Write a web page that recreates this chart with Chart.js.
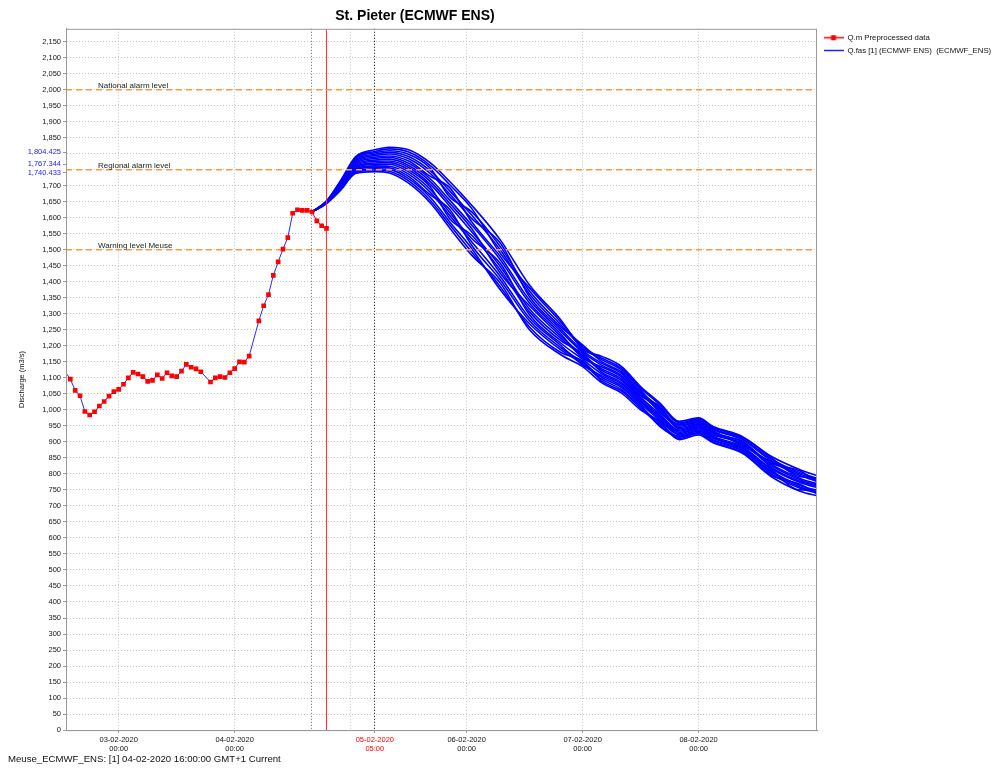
<!DOCTYPE html>
<html>
<head>
<meta charset="utf-8">
<title>St. Pieter (ECMWF ENS)</title>
<script src="https://cdn.jsdelivr.net/npm/chart.js@4.4.1/dist/chart.umd.min.js"></script>
<style>
    html, body { margin: 0; padding: 0; background: #fff; }
    canvas { display: block; }
</style>
</head>
<body>
<canvas id="grafico" width="993" height="769"></canvas>
<script>
// eixo x em horas desde 03-02-2020 00:00
var xMin = -10.9;
var xMax = 144.5;
var yMax = 2190;

// Q.m observado (horas faltando: 18 e 28)
var obsHours = [-11, -10, -9, -8, -7, -6, -5, -4, -3, -2, -1, 0, 1, 2, 3, 4, 5, 6, 7, 8, 9, 10,
    11, 12, 13, 14, 15, 16, 17, 19, 20, 21, 22, 23, 24, 25, 26, 27, 29, 30, 31, 32, 33, 34,
    35, 36, 37, 38, 39, 40, 41, 42, 43];
var obsValues = [1118, 1096, 1061, 1044, 995, 984, 994, 1012, 1026, 1043, 1057, 1064, 1080, 1100,
    1117, 1112, 1104, 1089, 1092, 1109, 1098, 1116, 1106, 1104, 1121, 1142, 1133, 1128, 1119,
    1087, 1100, 1104, 1101, 1116, 1129, 1150, 1149, 1168, 1278, 1325, 1360, 1420, 1462, 1502,
    1538, 1614, 1625, 1623, 1623, 1618, 1590, 1575, 1567];

// previsão ECMWF ENS: uma linha por instante, uma coluna por membro
var ensHours = [40, 43, 46, 49, 53, 56, 60, 64.5, 68.5, 73, 79, 85, 91.5, 96, 100, 104, 108, 112,
    116, 120, 123, 129, 135, 141, 145];
var ensRows = [
    [1618, 1618, 1618, 1618, 1618, 1618, 1618, 1618, 1618, 1618, 1618, 1618, 1618, 1618, 1618, 1618],
    [1652, 1652, 1651, 1650, 1650, 1649, 1649, 1648, 1648, 1647, 1647, 1646, 1646, 1645, 1645, 1644],
    [1718, 1716, 1714, 1712, 1710, 1708, 1706, 1704, 1701, 1699, 1697, 1695, 1693, 1691, 1689, 1687],
    [1790, 1787, 1783, 1780, 1776, 1773, 1769, 1766, 1762, 1759, 1755, 1752, 1748, 1745, 1741, 1738],
    [1812, 1807, 1803, 1798, 1794, 1789, 1785, 1780, 1776, 1771, 1767, 1762, 1758, 1753, 1749, 1744],
    [1820, 1815, 1809, 1804, 1799, 1793, 1788, 1783, 1777, 1772, 1767, 1761, 1756, 1751, 1745, 1740],
    [1812, 1805, 1798, 1791, 1784, 1777, 1770, 1763, 1757, 1750, 1743, 1736, 1729, 1722, 1715, 1708],
    [1771, 1763, 1754, 1746, 1738, 1729, 1721, 1713, 1704, 1696, 1688, 1679, 1671, 1663, 1654, 1646],
    [1713, 1703, 1665, 1684, 1674, 1694, 1655, 1645, 1636, 1597, 1616, 1607, 1626, 1587, 1578, 1568],
    [1640, 1630, 1619, 1609, 1598, 1588, 1578, 1567, 1557, 1546, 1536, 1526, 1515, 1505, 1494, 1484],
    [1530, 1488, 1509, 1499, 1520, 1478, 1468, 1426, 1447, 1436, 1457, 1416, 1405, 1374, 1384, 1395],
    [1390, 1381, 1371, 1362, 1353, 1343, 1334, 1325, 1315, 1306, 1297, 1287, 1278, 1269, 1259, 1250],
    [1281, 1274, 1266, 1259, 1252, 1245, 1237, 1230, 1223, 1216, 1208, 1201, 1194, 1187, 1179, 1172],
    [1189, 1198, 1194, 1203, 1185, 1180, 1162, 1171, 1167, 1176, 1158, 1140, 1149, 1144, 1153, 1135],
    [1167, 1161, 1156, 1150, 1145, 1139, 1134, 1128, 1123, 1117, 1112, 1106, 1101, 1095, 1090, 1084],
    [1136, 1130, 1125, 1119, 1114, 1108, 1103, 1097, 1092, 1086, 1081, 1075, 1070, 1064, 1059, 1053],
    [1073, 1068, 1063, 1058, 1054, 1049, 1044, 1039, 1034, 1029, 1024, 1019, 1015, 1010, 1005, 1000],
    [1021, 1016, 992, 1006, 1002, 997, 1011, 987, 982, 977, 972, 967, 948, 958, 953, 963],
    [964, 960, 956, 953, 949, 945, 941, 937, 934, 930, 926, 922, 918, 915, 911, 907],
    [975, 971, 968, 964, 961, 957, 954, 950, 947, 943, 940, 936, 933, 929, 926, 922],
    [948, 945, 941, 938, 934, 931, 928, 924, 921, 917, 914, 911, 907, 904, 900, 897],
    [917, 914, 910, 907, 889, 900, 896, 893, 903, 886, 882, 879, 875, 872, 868, 865],
    [855, 851, 847, 842, 838, 834, 830, 826, 821, 817, 813, 809, 805, 800, 796, 792],
    [813, 791, 804, 800, 795, 809, 786, 782, 777, 773, 750, 764, 759, 755, 768, 746],
    [792, 788, 784, 780, 775, 771, 767, 763, 759, 755, 751, 747, 742, 738, 734, 730]
];

// níveis de alerta
var thresholdNames = ['National alarm level', 'Regional alarm level', 'Warning level Meuse'];
var thresholdValues = [2000, 1750, 1500];

// rótulos azuis do pico (máx, mediana, mín)
var peakValues = [1804.425, 1767.344, 1740.433];
var hiddenYTicks = [1750, 1800];

// linhas verticais
var t0Hour = 40;
var nowHour = 43;
var highlightHour = 53;

var xTickHours = [0, 24, 40, 48, 53, 72, 96, 120];
var xTickLabels = [['03-02-2020', '00:00'], ['04-02-2020', '00:00'], '', '',
    ['05-02-2020', '05:00'], ['06-02-2020', '00:00'], ['07-02-2020', '00:00'], ['08-02-2020', '00:00']];

Chart.defaults.font.family = '"Liberation Sans", Arial, sans-serif';
Chart.defaults.color = '#111';

var GRADE = '#c4c4c4';

function icone(cor, marcador) {
    var c = document.createElement('canvas');
    c.width = 20;
    c.height = 7;
    var g = c.getContext('2d');
    g.strokeStyle = cor;
    g.lineWidth = 1.5;
    g.beginPath();
    g.moveTo(0, 3.5);
    g.lineTo(20, 3.5);
    g.stroke();
    if (marcador) {
        g.fillStyle = cor;
        g.fillRect(7.5, 1, 5, 5);
    }
    return c;
}
var iconeObs = icone('#ff0000', true);
var iconeFas = icone('#2222ff', false);

var datasets = [];

datasets.push({
    label: 'Q.m Preprocessed data',
    data: obsHours.map(function (h, i) { return { x: h, y: obsValues[i] }; }),
    borderColor: '#ff0000',
    backgroundColor: '#ff0000',
    borderWidth: 1,
    pointStyle: 'rect',
    pointRadius: function (c) { return c.raw && c.raw.x < xMin ? 0 : 3.3; },
    pointBorderWidth: 0,
    segment: {
        borderColor: function (c) { return c.p1.parsed.x <= t0Hour ? '#2a2aff' : '#ff0000'; }
    },
    order: 0
});

thresholdValues.forEach(function (v) {
    datasets.push({
        label: '',
        data: [{ x: xMin, y: v }, { x: xMax, y: v }],
        borderColor: '#ff9a33',
        borderDash: [6, 4],
        borderWidth: 1.5,
        pointRadius: 0,
        order: 1
    });
});

datasets.push({
    label: '',
    data: [{ x: nowHour, y: 0 }, { x: nowHour, y: yMax }],
    borderColor: '#ff3030',
    borderWidth: 1,
    pointRadius: 0,
    order: 2
});

for (var m = 0; m < ensRows[0].length; m++) {
    datasets.push({
        label: m === 0 ? 'Q.fas [1] (ECMWF ENS)  (ECMWF_ENS)' : '',
        data: ensHours.map(function (h, t) { return { x: h, y: ensRows[t][m] }; }),
        borderColor: '#0000ff',
        borderWidth: 1.6,
        pointRadius: 0,
        cubicInterpolationMode: 'monotone',
        order: 3
    });
}

var rotulosLimiares = {
    id: 'rotulosLimiares',
    afterDatasetsDraw: function (chart) {
        var ctx = chart.ctx;
        var area = chart.chartArea;
        var y = chart.scales.y;
        ctx.save();
        ctx.font = '8px "Liberation Sans", Arial, sans-serif';
        ctx.fillStyle = '#222';
        ctx.textBaseline = 'alphabetic';
        thresholdNames.forEach(function (nome, i) {
            ctx.fillText(nome, area.left + 32, y.getPixelForValue(thresholdValues[i]) - 2);
        });
        ctx.restore();
    }
};

var moldura = {
    id: 'moldura',
    afterDraw: function (chart) {
        var a = chart.chartArea;
        var ctx = chart.ctx;
        ctx.save();
        ctx.strokeStyle = '#9a9a9a';
        ctx.lineWidth = 1;
        ctx.strokeRect(a.left + 0.5, a.top + 0.5, a.right - a.left - 1, a.bottom - a.top);
        ctx.restore();
    }
};

// título centrado fora da legenda; legenda um pouco à direita
var ajusteLayout = {
    id: 'ajusteLayout',
    afterLayout: function (chart) {
        var area = chart.chartArea;
        chart.titleBlock.left = 0;
        chart.titleBlock.right = area.right + 13;
        var w = chart.legend.width;
        chart.legend.left = area.right + 1.5;
        chart.legend.right = chart.legend.left + w;
    }
};

var chart = new Chart(document.getElementById('grafico').getContext('2d'), {
    type: 'line',
    data: { datasets: datasets },
    plugins: [rotulosLimiares, moldura, ajusteLayout],
    options: {
        responsive: false,
        animation: false,
        events: [],
        layout: { padding: { left: 8, right: 0, top: 0, bottom: 0 } },
        plugins: {
            title: {
                display: true,
                text: 'St. Pieter (ECMWF ENS)',
                font: { size: 14, weight: 'bold' },
                color: '#000',
                padding: { top: 8, bottom: 4 }
            },
            subtitle: {
                display: true,
                position: 'bottom',
                align: 'start',
                text: 'Meuse_ECMWF_ENS: [1] 04-02-2020 16:00:00 GMT+1 Current',
                font: { size: 9.6 },
                color: '#111',
                padding: { top: 2.5, bottom: 3.5 }
            },
            legend: {
                position: 'right',
                align: 'start',
                fullSize: false,
                maxWidth: 176,
                labels: {
                    usePointStyle: true,
                    pointStyleWidth: 20,
                    padding: 5,
                    font: { size: 7.8 },
                    color: '#111',
                    generateLabels: function (chart) {
                        var itens = Chart.defaults.plugins.legend.labels.generateLabels(chart);
                        itens = itens.filter(function (i) { return i.text; });
                        itens.forEach(function (i) {
                            i.pointStyle = i.datasetIndex === 0 ? iconeObs : iconeFas;
                        });
                        return itens;
                    }
                }
            },
            tooltip: { enabled: false }
        },
        scales: {
            x: {
                type: 'linear',
                min: xMin,
                max: xMax,
                afterBuildTicks: function (s) {
                    s.ticks = xTickHours.map(function (v) { return { value: v }; });
                },
                afterFit: function (s) { s.height = 21.4; },
                ticks: {
                    autoSkip: false,
                    maxRotation: 0,
                    padding: 2,
                    font: { size: 7.5 },
                    color: function (c) { return c.tick && c.tick.value === highlightHour ? '#ff0000' : '#111'; },
                    callback: function (v) {
                        var i = xTickHours.indexOf(v);
                        return i < 0 ? '' : xTickLabels[i];
                    }
                },
                grid: {
                    color: function (c) {
                        if (!c.tick) return GRADE;
                        if (c.tick.value === highlightHour) return '#000';
                        if (c.tick.value === t0Hour) return '#666';
                        return GRADE;
                    },
                    tickColor: function (c) {
                        if (!c.tick) return GRADE;
                        return xTickLabels[xTickHours.indexOf(c.tick.value)] ? '#999' : 'rgba(0,0,0,0)';
                    },
                    tickLength: 3
                },
                border: { color: '#9a9a9a', width: 1, dash: [1, 2] }
            },
            y: {
                min: 0,
                max: yMax,
                afterBuildTicks: function (s) {
                    var t = s.ticks.filter(function (k) { return k.value <= 2150; });
                    peakValues.forEach(function (v) { t.push({ value: v }); });
                    t.sort(function (a, b) { return a.value - b.value; });
                    s.ticks = t;
                },
                afterFit: function (s) { s.width = 58; },
                ticks: {
                    stepSize: 50,
                    autoSkip: false,
                    padding: 2,
                    font: { size: 7.5 },
                    color: function (c) {
                        return c.tick && peakValues.indexOf(c.tick.value) >= 0 ? '#2020ff' : '#111';
                    },
                    callback: function (v) {
                        return hiddenYTicks.indexOf(v) >= 0 ? '' : v.toLocaleString('en-US');
                    }
                },
                grid: {
                    color: function (c) {
                        return c.tick && peakValues.indexOf(c.tick.value) >= 0 ? 'rgba(0,0,0,0)' : GRADE;
                    },
                    tickColor: function (c) {
                        return c.tick && hiddenYTicks.indexOf(c.tick.value) >= 0 ? 'rgba(0,0,0,0)' : '#999';
                    },
                    tickLength: 3
                },
                border: { color: '#9a9a9a', width: 1, dash: [1, 2] },
                title: {
                    display: true,
                    text: 'Discharge (m3/s)',
                    font: { size: 7.5 },
                    color: '#111',
                    padding: { top: 9, bottom: 0 }
                }
            }
        }
    }
});
</script>
</body>
</html>
